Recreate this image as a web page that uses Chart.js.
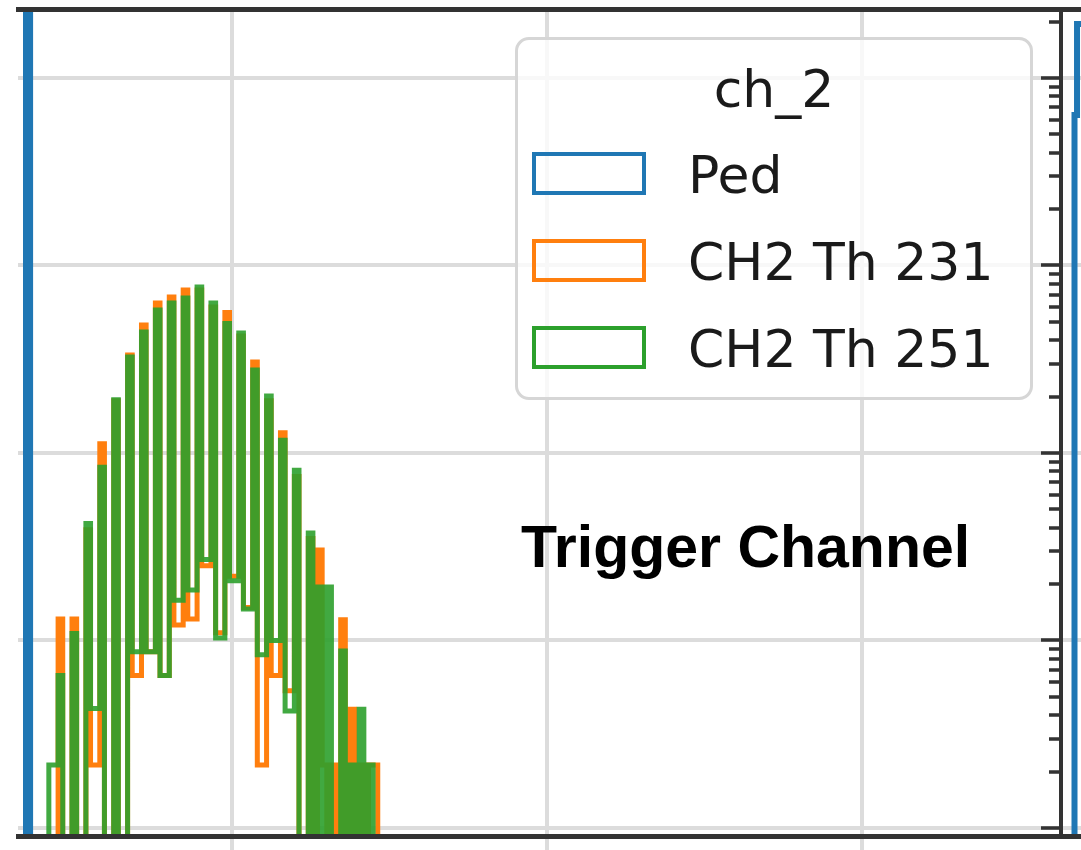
<!DOCTYPE html>
<html>
<head>
<meta charset="utf-8">
<script src="https://cdn.jsdelivr.net/npm/chart.js@4/dist/chart.umd.min.js"></script>
<style>
  html, body { margin: 0; padding: 0; background: #fff; }
  #wrap { position: relative; width: 1081px; height: 850px; overflow: hidden; background: #fff; }
  #main { position: absolute; left: 0; top: 0; }
  #side { position: absolute; left: 1036px; top: 0; }
  .lg-box { position: absolute; left: 515px; top: 37px; width: 512px; height: 357px;
            border: 3px solid #d6d6d6; border-radius: 14px; background: rgba(255,255,255,0.8); }
  .lg-title, .lg-text { position: absolute; font-family: "DejaVu Sans", sans-serif; font-size: 52px;
            line-height: 52px; color: #1a1a1a; white-space: nowrap; }
  .lg-title { left: 515px; width: 518px; text-align: center; top: 63px; }
  .lg-patch { position: absolute; left: 532px; width: 114px; height: 43px; box-sizing: border-box;
            border: 4px solid; background: transparent; }
  .note { position: absolute; left: 521px; top: 518px; font-family: "Liberation Sans", Arial, sans-serif;
          font-weight: bold; font-size: 59px; line-height: 58px; color: #000; white-space: nowrap; }
</style>
</head>
<body>
<div id="wrap">
  <canvas id="main" width="1081" height="850"></canvas>
  <canvas id="side" width="45" height="850"></canvas>
  <div id="legend"></div>
  <div class="note">Trigger Channel</div>
</div>
<script>
// ---- histogram binning (ADC units) ----
const binStart = 20.19;
const binWidth = 0.7354;

// per-bin contents of the two threshold runs
const th231 = [
  0, 0, 0,       13.0, 0, 0,     13.0, 0, 0,     39, 2.17, 2.17,
  112, 0, 0,     190, 0, 0,      333, 6.5, 6.5,  482, 8.7, 8.7,
  631, 6.5, 6.5, 679, 12.1, 12.1, 740, 13.0, 13.0, 740, 25, 25,
  600, 11, 11,   561, 22, 22,    420, 15, 15,    306, 2.17, 2.17,
  190, 6.5, 6.5, 128, 5.4, 5.4,  75, 0, 0,       35, 0, 30.4,
  2.17, 0, 2.17, 0, 12.9, 0,     4.3, 0, 2.17,   0, 2.17, 2.17
];
const th251 = [
  0, 2.17, 2.17, 6.5, 0, 0,      10.9, 0, 0,     42, 4.34, 4.34,
  84, 0, 0,      192, 0, 0,      325, 8.7, 8.7,  442, 8.7, 8.7,
  579, 6.5, 6.5, 631, 16.4, 16.4, 671, 18.6, 18.6, 768, 27, 27,
  631, 10.3, 10.3, 490, 20.8, 20.8, 437, 14.7, 14.7, 277, 8.4, 8.4,
  201, 10, 10,   117, 4.2, 4.2,  81, 0, 0,       37.4, 0, 19.3,
  0, 19.3, 0,    0, 8.8, 0,      2.17, 0, 4.3,   0, 2.17, 0
];

// pedestal run (single narrow peak far above the visible range)
const pedEdges = [17.3, 17.95];
const pedCounts = [200000];

// pedestal of the neighbouring channel panel
const nextPedEdges = [18.17, 18.57, 19.8];
const nextPedCounts = [6350, 19400];

// axes
const xMin = 16.03, xMax = 181.6;
const sideXMax = 19.2;
const yMin = 0.906, yMax = 23330;
const xGrid = [50, 100, 150];
const yDecades = [1, 10, 100, 1000, 10000];

const seriesLabels = ['Ped', 'CH2 Th 231', 'CH2 Th 251'];
const seriesColors = ['#1f77b4', '#ff7f0e', '#2ca02c'];

// ---- helpers ----
const binEdges = th231.map((_, i) => binStart + i * binWidth).concat([binStart + th231.length * binWidth]);

// empty bins cannot sit on a log axis: draw them just below the visible floor, as matplotlib clips them
const emptyLevel = 0.01;
const onLog = c => (c > 0 ? c : emptyLevel);

function stepPoints(edges, counts) {
  const pts = [{ x: edges[0], y: emptyLevel }];
  counts.forEach((c, i) => {
    pts.push({ x: edges[i], y: onLog(c) });
    pts.push({ x: edges[i + 1], y: onLog(c) });
  });
  pts.push({ x: edges[edges.length - 1], y: emptyLevel });
  return pts;
}

function stepDataset(label, color, edges, counts, order, width) {
  return {
    label, data: stepPoints(edges, counts),
    borderColor: color, backgroundColor: color,
    borderWidth: width, pointRadius: 0, tension: 0, fill: false,
    borderJoinStyle: 'miter', clip: 0, order
  };
}

const isDecade = v => Math.abs(Math.log10(v) - Math.round(Math.log10(v))) < 1e-9;
const spine = '#333';
const gridColor = '#dcdcdc';

// ---- main panel ----
const mainChart = new Chart(document.getElementById('main'), {
  type: 'line',
  data: {
    datasets: [
      stepDataset(seriesLabels[2], 'rgba(44,160,44,0.9)', binEdges, th251, 0, 5),
      stepDataset(seriesLabels[1], seriesColors[1], binEdges, th231, 1, 5),
      stepDataset(seriesLabels[0], seriesColors[0], pedEdges, pedCounts, 2, 6)
    ]
  },
  options: {
    responsive: false, animation: false, devicePixelRatio: 1,
    layout: { padding: { left: 18, top: 9, right: 20, bottom: 0 } },
    plugins: { legend: { display: false }, tooltip: { enabled: false } },
    scales: {
      x: {
        type: 'linear', position: 'bottom', min: xMin, max: xMax,
        afterBuildTicks: s => { s.ticks = xGrid.map(v => ({ value: v })); },
        afterFit: s => { s.height = 14; },
        grid: { color: gridColor, lineWidth: 4, drawTicks: true, tickLength: 14, tickColor: gridColor },
        border: { display: true, color: spine, width: 5, z: 1 },
        ticks: { display: false }
      },
      xTop: {
        type: 'linear', position: 'top', min: xMin, max: xMax,
        afterFit: s => { s.height = 0; },
        grid: { display: false },
        border: { display: true, color: spine, width: 5, z: 1 },
        ticks: { display: false }
      },
      y: {
        type: 'logarithmic', position: 'left', min: yMin, max: yMax,
        afterBuildTicks: s => { s.ticks = yDecades.map(v => ({ value: v })); },
        afterFit: s => { s.width = 0; },
        grid: { color: gridColor, lineWidth: 4, drawTicks: false },
        border: { display: false },
        ticks: { display: false }
      },
      yRight: {
        type: 'logarithmic', position: 'right', min: yMin, max: yMax,
        afterFit: s => { s.width = 0; },
        grid: { display: false },
        border: { display: true, color: spine, width: 4, z: 1 },
        ticks: { display: false }
      }
    }
  }
});

// ---- neighbouring panel (shared log y axis with major/minor ticks) ----
const sideTicks = [];
yDecades.forEach(d => { for (let m = 1; m <= 9; m++) { const v = m * d; if (v >= yMin && v <= yMax) sideTicks.push(v); } });

new Chart(document.getElementById('side'), {
  type: 'line',
  data: { datasets: [stepDataset(seriesLabels[0], seriesColors[0], nextPedEdges, nextPedCounts, 0, 6)] },
  options: {
    responsive: false, animation: false, devicePixelRatio: 1,
    layout: { padding: { left: 0, top: 9, right: 0, bottom: 0 } },
    plugins: { legend: { display: false }, tooltip: { enabled: false } },
    scales: {
      x: {
        type: 'linear', position: 'bottom', min: xMin, max: sideXMax,
        afterFit: s => { s.height = 14; },
        grid: { display: false },
        border: { display: true, color: spine, width: 5, z: 1 },
        ticks: { display: false }
      },
      xTop: {
        type: 'linear', position: 'top', min: xMin, max: sideXMax,
        afterFit: s => { s.height = 0; },
        grid: { display: false },
        border: { display: true, color: spine, width: 5, z: 1 },
        ticks: { display: false }
      },
      y: {
        type: 'logarithmic', position: 'left', min: yMin, max: yMax,
        afterBuildTicks: s => { s.ticks = sideTicks.map(v => ({ value: v })); },
        afterFit: s => { s.width = 25; },
        grid: {
          color: c => isDecade(c.tick.value) ? gridColor : 'rgba(0,0,0,0)',
          lineWidth: 4, drawTicks: true, tickLength: 20, tickWidth: 3.5, tickColor: spine,
          tickBorderDash: c => isDecade(c.tick.value) ? [] : [0, 8, 30, 0]
        },
        border: { display: true, color: spine, width: 4, z: 1 },
        ticks: { display: false }
      }
    }
  }
});

// ---- legend (built from the main panel's datasets) ----
(function buildLegend() {
  const host = document.getElementById('legend');
  const box = document.createElement('div');
  box.className = 'lg-box';
  host.appendChild(box);
  const title = document.createElement('div');
  title.className = 'lg-title';
  title.textContent = 'ch_2';
  host.appendChild(title);
  const tops = [152, 239, 326];
  const textTops = [149, 236, 323];
  const byLabel = {};
  mainChart.data.datasets.forEach(ds => { byLabel[ds.label] = ds; });
  seriesLabels.forEach((lab, i) => {
    const patch = document.createElement('div');
    patch.className = 'lg-patch';
    patch.style.top = tops[i] + 'px';
    patch.style.borderColor = seriesColors[i];
    host.appendChild(patch);
    const t = document.createElement('div');
    t.className = 'lg-text';
    t.style.left = '688px';
    t.style.top = textTops[i] + 'px';
    t.textContent = byLabel[lab] ? byLabel[lab].label : lab;
    host.appendChild(t);
  });
})();
</script>
</body>
</html>
